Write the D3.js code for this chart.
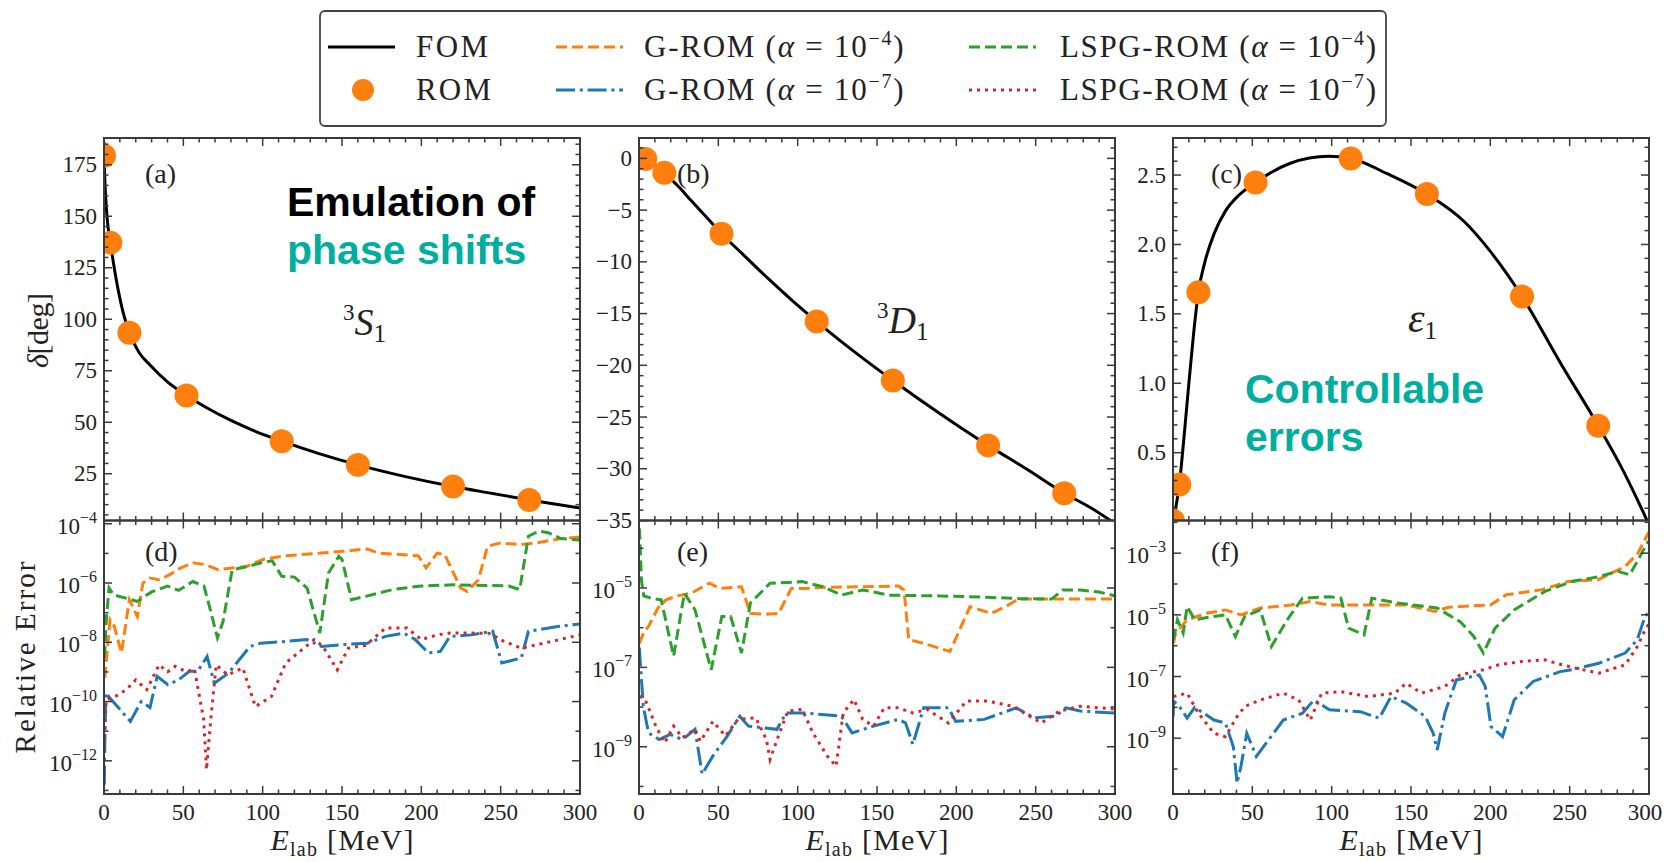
<!DOCTYPE html>
<html><head><meta charset="utf-8">
<script src="https://cdn.jsdelivr.net/npm/d3@7"></script>
<style>body{margin:0;background:#fff}svg{display:block}</style>
</head><body><svg id="c" width="1664" height="862"></svg>
<script>
// ---------------- DATA ----------------
const xTicks = [0, 50, 100, 150, 200, 250, 300];
const E_ROM = [0, 4, 16, 52, 112, 160, 220, 268];
const rom3S1 = [179.4, 137.2, 93.5, 63, 40.8, 29.3, 18.8, 12.3];
const rom3D1 = [0, -0.05, -1.4, -7.28, -15.77, -21.46, -27.74, -32.37];
const romEps1 = [0.01, 0.27, 1.656, 2.447, 2.62, 2.363, 1.625, 0.694];

const fomE_3S1 = [0, 0.2, 0.5, 1, 2, 3, 4, 5, 7, 9, 12, 16, 22, 29, 40, 52, 65, 81, 95, 112, 135, 160, 190, 220, 245, 268, 285, 300];
const fom3S1 = [186, 176, 168, 160, 149, 142, 137.2, 132, 122.5, 114, 103.5, 93.5, 84, 77.8, 69.6, 63, 56.9, 50.5, 45.7, 40.8, 34.9, 29.3, 23.6, 18.8, 15.4, 12.3, 10.2, 8.4];
const fomE_3D1 = [0, 4, 10, 16, 25, 33, 42, 52, 65, 82, 97, 112, 135, 160, 190, 220, 245, 268, 285, 300];
const fom3D1 = [0, -0.05, -0.6, -1.4, -2.75, -4.1, -5.6, -7.28, -9.2, -11.7, -13.8, -15.77, -18.6, -21.46, -24.7, -27.74, -30.1, -32.37, -33.8, -35.3];
const fomE_eps1 = [0, 2, 4, 7, 10, 13, 16, 20, 26, 33, 42, 52, 74, 98, 112, 135, 160, 184, 200, 220, 244, 268, 281, 296, 300];
const fomEps1 = [0, 0.12, 0.27, 0.62, 1.0, 1.36, 1.656, 1.87, 2.08, 2.24, 2.36, 2.447, 2.585, 2.635, 2.62, 2.51, 2.363, 2.16, 1.95, 1.625, 1.15, 0.694, 0.43, 0.08, -0.02];

// relative errors: [E_lab, log10(relative error)]
const d_G4 = [[0.5,-9.2],[3.8,-7.24],[6.5,-7.46],[11,-8.36],[16,-6.56],[21,-7.13],[24.5,-6.0],[29,-5.83],[34.7,-5.89],[41.4,-5.72],[48.2,-5.49],[56,-5.32],[64,-5.38],[71.8,-5.55],[80.8,-5.49],[89.8,-5.44],[101,-5.19],[114.5,-5.08],[137,-4.99],[150.5,-4.93],[166,-4.85],[173,-4.99],[198,-5.08],[203,-5.49],[210,-4.99],[214.7,-5.04],[224.8,-6.17],[229,-6.28],[236,-5.89],[241.7,-4.76],[249.5,-4.65],[263,-4.7],[274,-4.63],[287,-4.51],[300,-4.45]];
const d_L4 = [[0.3,-8.5],[1.5,-7.2],[3.2,-6.17],[6,-6.4],[13,-6.5],[21,-6.62],[30,-6.3],[40,-6.1],[47,-6.25],[56,-5.95],[63,-6.1],[67,-6.9],[71.5,-7.85],[75,-7.3],[80.8,-5.55],[90,-5.45],[100,-5.3],[106,-5.25],[112,-5.77],[120,-5.8],[128,-6.17],[136,-7.69],[141.5,-5.66],[148,-5.1],[150,-5.2],[156,-6.56],[165,-6.45],[182,-6.22],[200,-6.1],[220,-6.06],[240,-6.08],[255,-6.1],[262,-6.22],[267.5,-4.42],[274,-4.25],[280,-4.3],[288,-4.5],[300,-4.55]];
const d_G7 = [[0.2,-12.8],[0.6,-11],[1.3,-9.7],[4,-9.9],[9,-10.2],[16.6,-10.67],[23.4,-10.0],[29,-10.2],[33.5,-9.15],[40.3,-9.43],[47,-9.27],[53.8,-8.98],[59,-8.98],[65,-8.48],[69.5,-9.38],[78.5,-9.04],[92,-8.14],[98.8,-8.03],[114.5,-7.97],[128,-7.91],[137,-8.14],[150,-8.08],[166,-8.03],[177.5,-7.8],[188.8,-7.69],[196,-7.9],[204.5,-8.36],[212,-8.31],[218,-7.8],[231.5,-7.75],[245,-7.63],[250.7,-8.7],[263,-8.53],[267.5,-7.63],[287,-7.46],[300,-7.38]];
const d_L7 = [[0.2,-11.5],[1.3,-9.94],[8,-9.8],[14,-9.6],[20,-9.27],[27,-9.6],[34.7,-8.76],[40,-9.0],[44.8,-8.81],[52,-9.0],[57,-8.9],[62.8,-10.6],[64.6,-12.3],[67.3,-10.6],[70.7,-8.76],[78,-9.1],[87.5,-8.87],[95.4,-10.17],[105.5,-9.83],[114.5,-8.7],[132.5,-7.91],[138,-8.14],[147,-8.93],[154,-8.2],[165,-8.1],[177.5,-7.52],[191,-7.52],[200,-7.91],[210,-7.75],[218,-7.69],[232,-7.69],[244,-7.7],[249.5,-7.91],[263,-8.2],[287,-7.91],[300,-7.75]];

const e_G4 = [[0.3,-6.4],[3,-6.1],[6,-5.97],[12,-5.5],[17,-5.3],[24,-5.2],[33,-5.13],[44.3,-4.88],[51,-5.01],[64.6,-4.97],[70.2,-5.64],[80,-5.66],[88,-5.64],[96,-5.01],[105,-5.01],[118.6,-4.98],[140,-4.97],[163.6,-4.95],[167,-5.05],[170,-6.3],[179,-6.39],[196,-6.6],[208.6,-5.47],[222,-5.64],[231,-5.47],[239,-5.28],[262.6,-5.28],[280,-5.28],[300,-5.28]];
const e_L4 = [[0.3,-3.5],[1.5,-4.8],[3,-5.2],[8,-5.26],[14,-5.3],[21.8,-6.72],[28.6,-5.13],[35.3,-5.55],[45.5,-7.06],[52.2,-5.72],[57.8,-5.72],[64.6,-6.64],[70.2,-5.38],[82.6,-4.88],[102.8,-4.84],[116,-4.97],[127.6,-5.18],[141,-5.05],[148,-5.1],[157,-5.18],[190,-5.2],[217.6,-5.23],[240,-5.27],[260,-5.28],[267,-5.05],[278,-5.05],[290,-5.1],[300,-5.2]];
const e_G7 = [[0.2,-6.5],[2.7,-7.98],[6,-8.65],[12.8,-8.82],[19.6,-8.69],[27.4,-8.82],[35.3,-8.56],[39.8,-9.69],[46.6,-9.23],[55.6,-8.73],[63.5,-8.23],[69,-8.48],[87,-8.56],[92.7,-8.15],[105,-8.15],[127.6,-8.23],[134.3,-8.65],[147.8,-8.48],[163.6,-8.31],[168,-8.4],[172.6,-8.94],[179.4,-8.02],[195,-8.02],[199.6,-8.36],[217.6,-8.31],[237.8,-8.02],[249,-8.27],[262.6,-8.23],[269,-8.02],[278,-8.1],[300,-8.15]];
const e_L7 = [[0.3,-7.73],[3.8,-7.8],[10.6,-8.48],[16.2,-8.9],[21.8,-8.48],[27.4,-8.77],[35.3,-8.56],[38.7,-8.86],[46.6,-8.36],[54.5,-8.73],[62.3,-8.31],[73.6,-8.27],[80.3,-8.82],[82.6,-9.32],[87,-8.82],[93.8,-8.1],[102.8,-8.06],[109.6,-8.65],[118.6,-9.23],[124.2,-9.49],[128.7,-8.15],[135.5,-7.81],[141,-8.31],[147.8,-8.48],[154.6,-8.02],[163.6,-8.02],[172.6,-8.15],[181.6,-8.06],[195,-8.4],[206.3,-7.85],[219.8,-7.85],[235.6,-7.98],[244.6,-8.19],[253.6,-8.4],[265,-8.1],[278,-7.98],[300,-8.05]];

const f_G4 = [[0.3,-5.92],[1.6,-5.6],[8.9,-5.16],[21,-4.95],[33,-4.84],[42.8,-5.0],[55,-4.78],[74.3,-4.68],[86.5,-4.57],[98.6,-4.68],[122.9,-4.68],[147,-4.68],[165,-4.89],[173.8,-4.75],[200,-4.68],[210,-4.35],[232,-4.19],[249,-3.92],[268,-3.86],[285,-3.43],[293,-3.0],[298,-2.5],[300,-2.3]];
const f_L4 = [[0.3,-5.81],[2.8,-5.16],[6.4,-5.59],[8.9,-4.73],[13.7,-5.16],[25.8,-5.05],[33,-5.0],[39.3,-5.7],[45.2,-5.05],[55,-4.84],[62,-6.03],[72,-5.16],[81.6,-4.46],[98.6,-4.41],[105.8,-4.46],[110.7,-5.43],[120.4,-5.65],[125.3,-4.46],[142.3,-4.62],[166.5,-4.78],[181,-5.22],[189.6,-5.7],[195.6,-6.24],[203,-5.43],[215,-4.84],[234.4,-4.24],[251.4,-3.92],[268.4,-3.76],[280.5,-3.59],[287.8,-3.7],[292.6,-3.27],[298.7,-2.68],[300,-2.6]];
const f_G7 = [[0.1,-8.3],[0.4,-7.8],[4,-7.97],[8.9,-8.35],[13.7,-8.0],[25.8,-8.41],[33,-8.51],[38,-9.27],[40.4,-10.46],[42.8,-9.92],[46.5,-8.84],[52.5,-9.59],[69.5,-8.41],[81.6,-8.19],[88.8,-7.76],[98.6,-8.08],[118,-8.14],[130,-8.35],[137.4,-7.65],[147,-7.86],[159,-8.3],[164,-8.84],[166.5,-9.38],[171.3,-8.19],[178.6,-7.11],[193,-6.95],[196.8,-7.32],[200.4,-8.62],[207.7,-8.95],[215,-7.76],[227,-7.16],[244,-6.84],[251.4,-6.78],[268.4,-6.57],[285,-6.24],[292.6,-5.81],[297.5,-5.05],[300,-4.9]];
const f_L7 = [[0.3,-7.65],[8.9,-7.54],[16,-8.19],[25.8,-8.84],[33,-8.95],[40.4,-8.3],[45.2,-7.97],[55,-7.76],[69.5,-7.54],[79.2,-7.76],[86.5,-8.41],[93.7,-7.54],[105.8,-7.49],[122.9,-7.65],[139.8,-7.54],[147,-7.22],[156.7,-7.54],[171.3,-7.32],[181,-6.95],[195.6,-6.78],[205.3,-6.62],[219.8,-6.51],[234.4,-6.46],[241.6,-6.57],[253.8,-6.73],[268.4,-6.89],[285,-6.62],[292.6,-6.03],[297.5,-5.49],[300,-5.3]];

// axis ticks
const ticksA = [25, 50, 75, 100, 125, 150, 175];
const ticksB = [0, -5, -10, -15, -20, -25, -30, -35];
const ticksC = [0.5, 1.0, 1.5, 2.0, 2.5];
const expD = [-4, -6, -8, -10, -12], expDminor = [-5, -7, -9, -11, -13];
const expE = [-5, -7, -9], expEminor = [-4, -6, -8, -10];
const expF = [-3, -5, -7, -9], expFminor = [-2, -4, -6, -8, -10];

const legendLabels = ["FOM", "ROM", "G-ROM", "G-ROM", "LSPG-ROM", "LSPG-ROM"];

// ---------------- DRAWING ----------------
const svg = d3.select("#c");
svg.append("rect").attr("width",1664).attr("height",862).attr("fill","#fff");
const serif = '"Liberation Serif","Times New Roman",serif';
const sans = '"Liberation Sans",Arial,sans-serif';
const col = {orange:"#ff7f0e", blue:"#1f77b4", green:"#2ca02c", red:"#d62728", teal:"#00ae9f"};
const frame = "#3a3a3a";
const LW = 3;
const styles = {
  G4: {c: col.orange, d: "11,5"},
  L4: {c: col.green, d: "11,5"},
  G7: {c: col.blue, d: "19,4.8,3,4.8"},
  L7: {c: col.red, d: "3,5"}
};
const cols = [[104,580],[639,1115],[1173,1649]];
const topR = [520.5,138], botR = [794,520.5];

let clipId = 0;
function makeClip(x0,x1,y0,y1){
  const id = "clip"+(clipId++);
  svg.append("clipPath").attr("id",id).append("rect").attr("x",x0).attr("y",y0).attr("width",x1-x0).attr("height",y1-y0);
  return "url(#"+id+")";
}

function ticks(g, xs, ys, xMaj, xMin, yMaj, yMin){
  const [x0,x1] = xs.range(); const [yb,yt] = ys.range();
  const t = g.append("g").attr("stroke",frame).attr("stroke-width",1.5);
  const L = 8, l = 4.5;
  const add = (a,b,c,d)=>t.append("line").attr("x1",a).attr("y1",b).attr("x2",c).attr("y2",d);
  xMaj.forEach(v=>{const p=xs(v); add(p,yb,p,yb-L); add(p,yt,p,yt+L);});
  xMin.forEach(v=>{const p=xs(v); add(p,yb,p,yb-l); add(p,yt,p,yt+l);});
  yMaj.forEach(v=>{const p=ys(v); add(x0,p,x0+L,p); add(x1,p,x1-L,p);});
  yMin.forEach(v=>{const p=ys(v); add(x0,p,x0+l,p); add(x1,p,x1-l,p);});
  g.append("rect").attr("x",x0).attr("y",yt).attr("width",x1-x0).attr("height",yb-yt)
    .attr("fill","none").attr("stroke",frame).attr("stroke-width",2);
}

const xMinor = d3.range(0,301,10).filter(v=>v%50!==0);

function panelLabel(x, y, s){
  svg.append("text").attr("x",x).attr("y",y).style("font-family",serif).style("font-size","28px").attr("fill","#222").text(s);
}

// ---- top panels
const topDefs = [
  {dom:[2.3,188], fE:fomE_3S1, fV:fom3S1, rom:rom3S1, yt:ticksA, ymin:d3.range(5,188,5).filter(v=>v%25!==0), fmt:d3.format("d"), lab:"(a)"},
  {dom:[-35,1.97], fE:fomE_3D1, fV:fom3D1, rom:rom3D1, yt:ticksB, ymin:d3.range(-34,2,1).filter(v=>v%5!==0), fmt:d3.format("d"), lab:"(b)"},
  {dom:[0.0115,2.767], fE:fomE_eps1, fV:fomEps1, rom:romEps1, yt:ticksC, ymin:d3.range(1,28,1).filter(v=>v%5!==0).map(v=>v/10), fmt:d3.format(".1f"), lab:"(c)"}
];
topDefs.forEach((p,i)=>{
  const xs = d3.scaleLinear().domain([0,300]).range(cols[i]);
  const ys = d3.scaleLinear().domain(p.dom).range(topR);
  const g = svg.append("g");
  const clip = makeClip(cols[i][0], cols[i][1], topR[1], topR[0]);
  const pg = g.append("g").attr("clip-path", clip);
  const line = d3.line().x((d,k)=>xs(p.fE[k])).y(d=>ys(d)).curve(d3.curveMonotoneX);
  pg.append("path").attr("d", line(p.fV)).attr("fill","none").attr("stroke","#000").attr("stroke-width",3);
  pg.selectAll("circle").data(p.rom).join("circle").attr("cx",(d,k)=>xs(E_ROM[k])).attr("cy",d=>ys(d)).attr("r",12).attr("fill",col.orange);
  ticks(g, xs, ys, xTicks, xMinor, p.yt, p.ymin);
  g.selectAll("text.yl").data(p.yt).join("text").attr("class","yl")
    .attr("x", cols[i][0]-7).attr("y", d=>ys(d)+7.5).attr("text-anchor","end")
    .style("font-family",serif).style("font-size","23px").attr("fill","#222").text(d=>p.fmt(d));
  panelLabel(cols[i][0]+(i==0?41:38), 183, p.lab);
});

// ---- bottom panels
const botDefs = [
  {dom:[-13.12,-3.89], maj:expD, min:expDminor, s:{G4:d_G4, L4:d_L4, G7:d_G7, L7:d_L7}, lab:"(d)"},
  {dom:[-10.19,-3.30], maj:expE, min:expEminor, s:{G4:e_G4, L4:e_L4, G7:e_G7, L7:e_L7}, lab:"(e)"},
  {dom:[-10.81,-1.94], maj:expF, min:expFminor, s:{G4:f_G4, L4:f_L4, G7:f_G7, L7:f_L7}, lab:"(f)"}
];
botDefs.forEach((p,i)=>{
  const xs = d3.scaleLinear().domain([0,300]).range(cols[i]);
  const ys = d3.scaleLog().domain([Math.pow(10,p.dom[0]), Math.pow(10,p.dom[1])]).range(botR);
  const g = svg.append("g");
  const clip = makeClip(cols[i][0], cols[i][1], botR[1], botR[0]);
  const pg = g.append("g").attr("clip-path", clip);
  const line = d3.line().x(d=>xs(d[0])).y(d=>ys(Math.pow(10,d[1])));
  ["G4","L4","G7","L7"].forEach(k=>{
    pg.append("path").attr("d", line(p.s[k])).attr("fill","none").attr("stroke",styles[k].c)
      .attr("stroke-width",LW).attr("stroke-dasharray",styles[k].d);
  });
  ticks(g, xs, ys, xTicks, xMinor, p.maj.map(e=>Math.pow(10,e)), p.min.map(e=>Math.pow(10,e)).filter(v=>v>=ys.domain()[0]&&v<=ys.domain()[1]));
  p.maj.forEach(e=>{
    const y = ys(Math.pow(10,e));
    const t = g.append("text").attr("x", cols[i][0]-7).attr("y", y+10).attr("text-anchor","end")
      .style("font-family",serif).style("font-size","23px").attr("fill","#222");
    t.append("tspan").text("10");
    t.append("tspan").attr("dy",-11).style("font-size","16px").text("\u2212"+Math.abs(e));
  });
  g.selectAll("text.xl").data(xTicks).join("text").attr("class","xl")
    .attr("x", d=>Math.min(xs(d), 1645)).attr("y", 820).attr("text-anchor","middle")
    .style("font-family",serif).style("font-size","23px").attr("fill","#222").text(d=>d);
  panelLabel(cols[i][0]+(i==0?41:38), 561, p.lab);
  // x axis label
  const cx = (cols[i][0]+cols[i][1])/2;
  const xl = svg.append("text").attr("x",cx).attr("y",850).attr("text-anchor","middle")
    .style("font-family",serif).style("font-size","30px").attr("fill","#222")
    .attr("textLength",143).attr("lengthAdjust","spacing");
  xl.append("tspan").style("font-style","italic").text("E");
  xl.append("tspan").attr("dy",6).style("font-size","20px").text("lab");
  xl.append("tspan").attr("dy",-6).text(" [MeV]");
});

// y axis labels
(function(){
  const t = svg.append("text").attr("transform","translate(48,330.5) rotate(-90)").attr("text-anchor","middle")
    .style("font-family",serif).style("font-size","30px").attr("fill","#222").attr("textLength",75).attr("lengthAdjust","spacing");
  t.append("tspan").style("font-style","italic").text("\u03b4");
  t.append("tspan").text("[deg]");
  svg.append("text").attr("transform","translate(35,657.5) rotate(-90)").attr("text-anchor","middle")
    .style("font-family",serif).style("font-size","29px").attr("fill","#222").attr("textLength",192).attr("lengthAdjust","spacing")
    .text("Relative Error");
})();

// partial wave labels
function pwLabel(x, y, sup, main, sub, fs){
  const t = svg.append("text").attr("x",x).attr("y",y).style("font-family",serif).attr("fill","#222");
  if (sup) t.append("tspan").attr("dy",-15).style("font-size","23px").text(sup);
  t.append("tspan").attr("dy", sup?15:0).style("font-size",fs+"px").style("font-style","italic").text(main);
  t.append("tspan").attr("dy",7).style("font-size","25px").text(sub);
}
pwLabel(343, 335, "3", "S", "1", 38);
pwLabel(877, 333, "3", "D", "1", 38);
pwLabel(1408, 332, "", "\u03b5", "1", 42);

// annotations
function note(x, y, lines){
  lines.forEach((l,k)=>{
    svg.append("text").attr("x",x).attr("y",y+k*48).style("font-family",sans).style("font-weight","bold")
      .style("font-size","41px").attr("fill",l.c).text(l.t);
  });
}
note(287, 216, [{t:"Emulation of", c:"#000"}, {t:"phase shifts", c:col.teal}]);
note(1245, 403, [{t:"Controllable", c:col.teal}, {t:"errors", c:col.teal}]);

// legend
(function(){
  const lg = svg.append("g");
  lg.append("rect").attr("x",320).attr("y",11).attr("width",1066).attr("height",115).attr("rx",5)
    .attr("fill","#fff").attr("stroke","#444").attr("stroke-width",1.8);
  const rows = [47, 90];
  const items = [
    {type:"line", c:"#000", d:null, x:328, tx:416, r:0, w:72},
    {type:"dot", c:col.orange, x:328, tx:416, r:1, w:75},
    {type:"line", c:col.orange, d:styles.G4.d, x:556, tx:644, r:0, a:"4", w:259.5},
    {type:"line", c:col.blue, d:styles.G7.d, x:556, tx:644, r:1, a:"7", w:259.5},
    {type:"line", c:col.green, d:styles.L4.d, x:969, tx:1060, r:0, a:"4", w:316},
    {type:"line", c:col.red, d:styles.L7.d, x:969, tx:1060, r:1, a:"7", w:316}
  ];
  items.forEach((it,k)=>{
    const y = rows[it.r];
    if (it.type==="line") {
      const ln = lg.append("line").attr("x1",it.x).attr("x2",it.x+67).attr("y1",y).attr("y2",y)
        .attr("stroke",it.c).attr("stroke-width",3);
      if (it.d) ln.attr("stroke-dasharray",it.d);
    } else {
      lg.append("circle").attr("cx",it.x+35).attr("cy",y).attr("r",11).attr("fill",it.c);
    }
    const t = lg.append("text").attr("x",it.tx).attr("y",y+10).style("font-family",serif).style("font-size","31px")
      .attr("fill","#222").attr("textLength",it.w).attr("lengthAdjust","spacing");
    t.append("tspan").text(legendLabels[k]);
    if (it.a) {
      t.append("tspan").text(" (");
      t.append("tspan").style("font-style","italic").text("\u03b1");
      t.append("tspan").text(" = 10");
      t.append("tspan").attr("dy",-12).style("font-size","20px").text("\u2212"+it.a);
      t.append("tspan").attr("dy",12).text(")");
    }
  });
})();
</script></body></html>
